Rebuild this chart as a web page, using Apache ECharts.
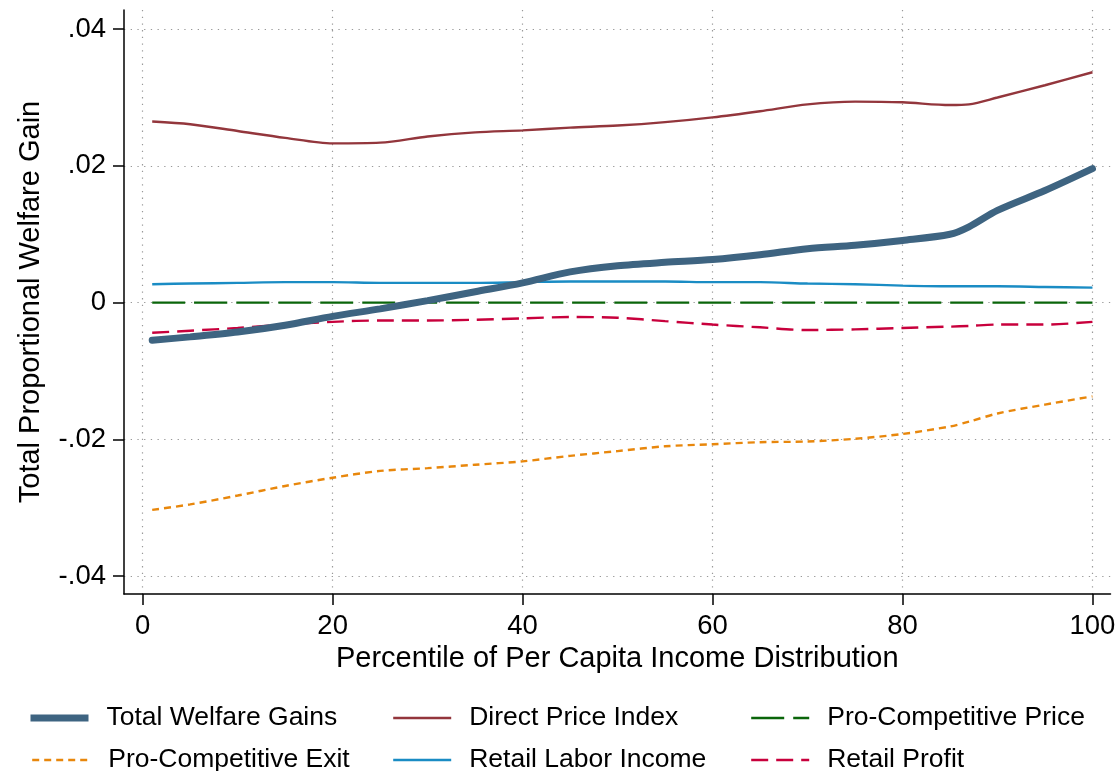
<!DOCTYPE html>
<html>
<head>
<meta charset="utf-8">
<script src="https://cdn.jsdelivr.net/npm/echarts@6/dist/echarts.min.js"></script>
<style>
html,body{margin:0;padding:0;background:#fff;}
#chart{width:1119px;height:771px;}
</style>
</head>
<body>
<div id="chart"></div>
<script>
// Percentiles of per capita income distribution
const percentiles = [1, 5, 10, 15, 20, 25, 30, 35, 40, 45, 50, 55, 60, 65, 70, 75, 80, 85, 87, 90, 95, 100];

const totalWelfareGains = [-0.0055, -0.0050, -0.0043, -0.0033, -0.0020, -0.0009, 0.0003, 0.0016, 0.0029, 0.0045, 0.0054, 0.0059, 0.0063, 0.0070, 0.0079, 0.0084, 0.0091, 0.0100, 0.0111, 0.0135, 0.0164, 0.0196];
const directPriceIndex = [0.0265, 0.0261, 0.0251, 0.0241, 0.0233, 0.0234, 0.0243, 0.0249, 0.0252, 0.0256, 0.0259, 0.0264, 0.0271, 0.0280, 0.0290, 0.0294, 0.0293, 0.0289, 0.0290, 0.0300, 0.0318, 0.0337];
const proCompetitivePrice = [0, 0, 0, 0, 0, 0, 0, 0, 0, 0, 0, 0, 0, 0, 0, 0, 0, 0, 0, 0, 0, 0];
const proCompetitiveExit = [-0.0303, -0.0295, -0.0282, -0.0268, -0.0256, -0.0246, -0.0242, -0.0237, -0.0232, -0.0224, -0.0217, -0.0210, -0.0207, -0.0204, -0.0203, -0.0199, -0.0192, -0.0181, -0.0174, -0.0162, -0.0149, -0.0137];
const retailLaborIncome = [0.0027, 0.0028, 0.0029, 0.0030, 0.0030, 0.0029, 0.0029, 0.0029, 0.0030, 0.0031, 0.0031, 0.0031, 0.0030, 0.0030, 0.0028, 0.0027, 0.0025, 0.0024, 0.0024, 0.0024, 0.0023, 0.0022];
const retailProfit = [-0.0044, -0.0041, -0.0037, -0.0032, -0.0028, -0.0026, -0.0026, -0.0025, -0.0023, -0.0021, -0.0022, -0.0027, -0.0032, -0.0036, -0.0040, -0.0039, -0.0037, -0.0035, -0.0034, -0.0032, -0.0032, -0.0028];

const xTickValues = [0, 20, 40, 60, 80, 100];
const yTickValues = [-0.04, -0.02, 0, 0.02, 0.04];
const yTickLabels = ['-.04', '-.02', '0', '.02', '.04'];

const seriesNames = ['Total Welfare Gains', 'Direct Price Index', 'Pro-Competitive Price', 'Pro-Competitive Exit', 'Retail Labor Income', 'Retail Profit'];

const FONT = 'Liberation Sans, Arial, sans-serif';
const pair = (arr) => percentiles.map((p, i) => [p, arr[i]]);

const chart = echarts.init(document.getElementById('chart'), null, {renderer: 'canvas'});

function legendAt(name, left, top, lw) {
  return {
    data: [name],
    left: left, top: top,
    orient: 'horizontal',
    itemWidth: 58, itemHeight: 14,
    selectedMode: false,
    padding: 0,
    itemStyle: {opacity: 0},
    lineStyle: {width: lw, cap: 'butt'},
    textStyle: {fontFamily: FONT, fontSize: 26.5, color: '#000', padding: [0, 0, 0, 13], lineHeight: 30}
  };
}

const option = {
  backgroundColor: '#fff',
  animation: false,
  grid: {left: 124, right: 8.5, top: 10, bottom: 177, containLabel: false},
  legend: [
    legendAt(seriesNames[0], 27, 703, 7),
    legendAt(seriesNames[1], 392, 703, 2.4),
    legendAt(seriesNames[2], 750, 703, 2.4),
    legendAt(seriesNames[3], 31, 745, 2.4),
    legendAt(seriesNames[4], 392, 745, 2.4),
    legendAt(seriesNames[5], 750, 745, 2.4)
  ],
  xAxis: {
    type: 'value', min: -1.97, max: 101.9,
    name: 'Percentile of Per Capita Income Distribution',
    nameLocation: 'middle', nameGap: 48,
    nameTextStyle: {fontFamily: FONT, fontSize: 29, color: '#000'},
    axisLine: {show: true, onZero: false, lineStyle: {color: '#000', width: 1.5}},
    axisTick: {show: true, length: 11, lineStyle: {color: '#000', width: 1.5}, customValues: xTickValues},
    axisLabel: {fontFamily: FONT, fontSize: 27.5, color: '#000', margin: 18, customValues: xTickValues},
    splitLine: {show: true, lineStyle: {color: '#999', width: 1.2, type: [1.3, 5.4]}}
  },
  yAxis: {
    type: 'value', min: -0.0426, max: 0.0428,
    name: 'Total Proportional Welfare Gain',
    nameLocation: 'middle', nameGap: 79, nameRotate: 90,
    nameTextStyle: {fontFamily: FONT, fontSize: 29, color: '#000'},
    axisLine: {show: true, onZero: false, lineStyle: {color: '#000', width: 1.5}},
    axisTick: {show: true, length: 11, lineStyle: {color: '#000', width: 1.5}, customValues: yTickValues},
    axisLabel: {fontFamily: FONT, fontSize: 27.5, color: '#000', margin: 18, customValues: yTickValues,
      formatter: (v) => { const i = yTickValues.findIndex(t => Math.abs(t - v) < 1e-9); return i >= 0 ? yTickLabels[i] : ''; }},
    splitLine: {show: true, lineStyle: {color: '#999', width: 1.2, type: [1.3, 5.4]}}
  },
  series: [
    {name: seriesNames[2], type: 'line', data: pair(proCompetitivePrice), symbol: 'none', smooth: 0.3, z: 3,
     lineStyle: {color: '#0a650a', width: 2.2, type: [33, 9]}, itemStyle: {color: '#0a650a'}},
    {name: seriesNames[3], type: 'line', data: pair(proCompetitiveExit), symbol: 'none', smooth: 0.3, z: 3,
     lineStyle: {color: '#e8870c', width: 2.4, type: [7, 5]}, itemStyle: {color: '#e8870c'}},
    {name: seriesNames[5], type: 'line', data: pair(retailProfit), symbol: 'none', smooth: 0.3, z: 3,
     lineStyle: {color: '#c8003c', width: 2.4, type: [17, 8]}, itemStyle: {color: '#c8003c'}},
    {name: seriesNames[4], type: 'line', data: pair(retailLaborIncome), symbol: 'none', smooth: 0.3, z: 4,
     lineStyle: {color: '#1a8cc4', width: 2.4}, itemStyle: {color: '#1a8cc4'}},
    {name: seriesNames[1], type: 'line', data: pair(directPriceIndex), symbol: 'none', smooth: 0.3, z: 4,
     lineStyle: {color: '#93363c', width: 2.4}, itemStyle: {color: '#93363c'}},
    {name: seriesNames[0], type: 'line', data: pair(totalWelfareGains), symbol: 'none', smooth: 0.3, z: 5,
     lineStyle: {color: '#3e6481', width: 7, cap: 'round'}, itemStyle: {color: '#3e6481'}}
  ]
};
chart.setOption(option);
</script>
</body>
</html>
